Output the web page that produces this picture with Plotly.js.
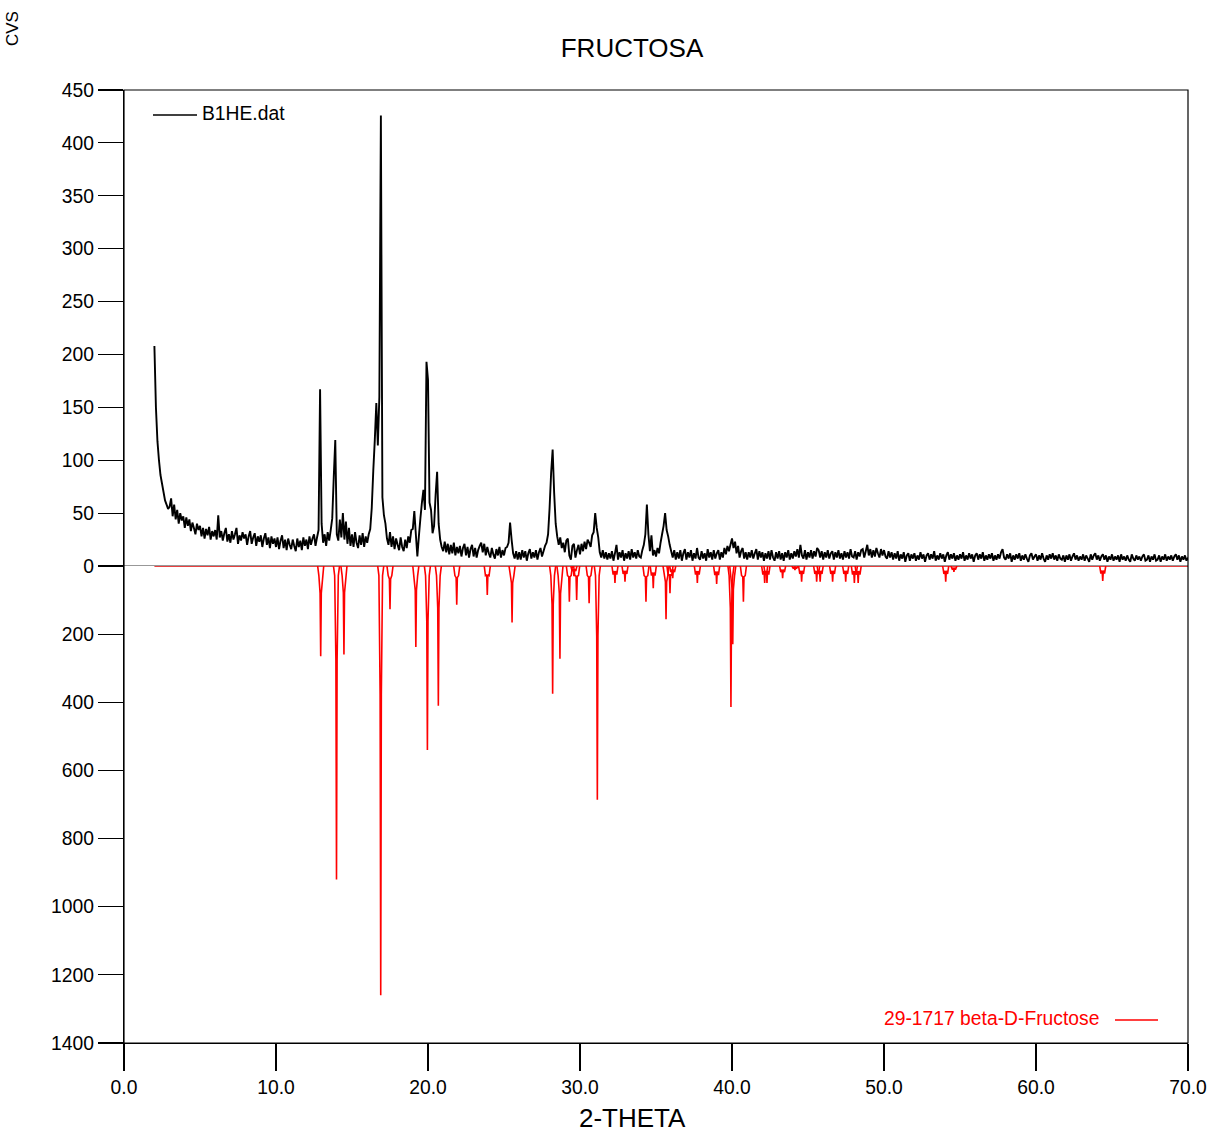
<!DOCTYPE html>
<html>
<head>
<meta charset="utf-8">
<script src="https://cdn.plot.ly/plotly-3.0.1.min.js"></script>
<style>html,body{margin:0;padding:0;background:#fff;}#chart{width:1225px;height:1135px;}</style>
</head>
<body>
<div id="chart"></div>
<script>
// Measured scan B1HE.dat: 2-theta from 2.0 to 70.0 in 0.1 steps (intensity, counts)
const scanStart = 2.0;
const scanStep = 0.1;
const scanCounts = [
208,150,118,100,86,78,70,62,58,54,
56,64,47,58,44,53,40,50,43,47,
36,46,38,44,33,41,36,30,40,34,
38,28,36,26,35,29,37,25,33,28,
34,25,48,27,33,24,31,36,23,30,
22,33,25,30,36,21,29,24,32,26,
30,20,28,33,21,27,31,19,28,23,
29,18,26,31,20,27,17,28,21,26,
18,27,16,24,29,17,25,15,26,20,
16,25,19,14,26,18,24,15,27,19,
25,16,28,20,26,30,19,27,34,167,
40,22,30,19,32,24,34,45,84,119,
30,24,44,27,50,25,42,21,36,19,
30,18,32,22,17,29,20,31,18,28,
22,30,35,55,90,119,154,114,160,426,
65,48,40,26,20,32,18,28,16,26,
20,15,27,18,14,25,17,28,22,34,
35,52,30,9,28,45,60,72,53,193,
176,60,53,31,38,67,89,40,25,18,
14,23,13,21,11,20,12,22,10,18,
12,19,9,17,21,10,18,8,16,20,
9,17,8,15,19,22,13,21,10,18,
12,8,17,11,7,16,10,18,8,15,
10,17,18,22,41,25,12,7,14,6,
13,6,15,8,14,5,12,16,7,13,
8,15,6,13,17,9,14,19,22,30,
55,88,110,69,40,28,20,27,17,22,
13,24,26,10,6,19,21,8,15,20,
11,21,14,23,16,25,22,18,29,32,
50,36,27,13,8,15,7,13,6,12,
7,14,5,12,20,6,13,8,15,5,
12,7,14,6,16,8,13,7,15,9,
8,15,20,30,58,30,14,29,10,15,
9,17,12,22,30,38,50,34,28,20,
14,8,15,6,13,7,15,5,12,16,
6,13,8,15,5,12,7,17,8,6,
14,7,12,5,16,8,13,6,15,7,
12,15,6,13,8,17,11,19,14,20,
26,17,23,12,19,8,14,17,7,13,
6,13,8,15,7,12,16,6,14,8,
13,5,12,7,14,6,15,8,5,13,
7,14,6,12,5,13,8,15,6,12,
7,14,9,16,8,20,10,7,15,6,
13,8,15,7,14,9,17,15,8,14,
6,13,8,15,7,12,14,6,13,8,
15,7,12,6,14,8,13,7,16,9,
8,14,6,13,9,15,16,8,14,20,
10,16,8,15,9,17,12,8,16,10,
15,9,7,14,8,13,6,12,7,14,
5,11,7,13,4,10,12,5,11,7,
12,5,10,6,13,7,11,4,10,12,
6,11,7,14,5,10,6,12,7,11,
4,10,13,6,11,7,12,5,10,6,
11,7,13,5,10,6,12,7,11,4,
10,12,6,11,7,13,5,10,6,11,
7,12,5,10,6,11,7,13,16,8,
6,11,7,12,4,10,6,11,7,12,
5,10,6,11,7,4,10,12,6,9,
11,5,10,6,12,7,4,10,6,11,
7,12,6,10,5,11,7,6,10,4,
10,6,11,5,9,12,6,10,5,9,
6,11,5,10,7,4,11,6,10,12,
6,10,5,9,11,6,10,4,9,6,
11,5,9,6,10,4,11,6,9,5,
10,6,4,11,7,5,10,6,9,5,
9,11,5,6,10,4,9,6,11,5,
6,10,4,9,6,11,5,9,6,10,
5,9,11,6,10,4,9,6,10,5,
8
];

// Reference pattern 29-1717 beta-D-Fructose: peak positions (2-theta) and intensities
const refPos = [12.94,13.98,14.47,16.89,17.5,19.2,19.96,20.68,21.89,23.9,25.53,28.2,28.68,29.3,29.6,29.78,30.6,31.14,32.3,32.96,34.34,34.82,35.66,35.92,36.1,37.72,38.99,39.93,40.05,40.75,42.15,42.3,43.33,44.14,44.58,45.57,45.8,46.62,47.48,48.05,48.3,54.06,54.6,64.39];
const refInt = [265,920,260,1260,127,238,540,410,114,85,166,375,272,105,30,100,109,686,50,46,105,65,156,80,36,50,53,414,230,105,50,50,36,12,46,46,46,46,46,50,50,46,17,44];

const xTickVals = [0,10,20,30,40,50,60,70];
const xTickText = ['0.0','10.0','20.0','30.0','40.0','50.0','60.0','70.0'];
const yTopTicks = [0,50,100,150,200,250,300,350,400,450];
const yBotTicks = [200,400,600,800,1000,1200,1400];

// build scan x values
const scanX = scanCounts.map((_, i) => +(scanStart + i * scanStep).toFixed(2));

// build reference profile polylines from peak list
const refX = [], refY = [];
refPos.forEach((p, k) => {
  const I = refInt[k];
  const c = Math.min(28, 0.5 * I);
  const shape = [[-0.2, 0], [-0.12, c], [-0.04, 0.3 * I], [0, I], [0.04, 0.3 * I], [0.12, c], [0.2, 0]];
  shape.forEach(([dx, f]) => { refX.push(p + dx); refY.push(f); });
  refX.push(null); refY.push(null);
});

const font = 'Arial, "Liberation Sans", sans-serif';
const small = 19.3;

const traces = [
  { x: [scanStart, 70], y: [0, 0], xaxis: 'x', yaxis: 'y2', mode: 'lines',
    line: { color: '#e00000', width: 1.5 }, hoverinfo: 'skip', showlegend: false },
  { x: refX, y: refY, xaxis: 'x', yaxis: 'y2', mode: 'lines',
    line: { color: '#ff0000', width: 1.6 }, connectgaps: false, showlegend: false },
  { x: scanX, y: scanCounts, xaxis: 'x', yaxis: 'y', mode: 'lines',
    line: { color: '#000000', width: 1.9, simplify: false }, showlegend: false }
];

const L = 124, R = 1188, T = 90, B = 1043;
const W = R - L, H = B - T;
const px = v => (v - L) / W;
const py = v => (B - v) / H;

const axisCommon = {
  ticks: 'outside', tickwidth: 1.2, tickcolor: '#000',
  showline: true, linecolor: '#000', linewidth: 1.2, showgrid: false, zeroline: false,
  tickfont: { family: font, size: small, color: '#000' }
};

const layout = {
  width: 1225, height: 1135,
  margin: { l: L, r: 1225 - R, t: T, b: 1135 - B, pad: 0 },
  paper_bgcolor: '#fff', plot_bgcolor: '#fff',
  font: { family: font, color: '#000', size: small },
  showlegend: false,
  title: { text: 'FRUCTOSA', font: { family: font, size: 26, color: '#000' },
           xref: 'container', x: 632 / 1225, xanchor: 'center',
           yref: 'container', y: 1 - 48 / 1135, yanchor: 'middle' },
  xaxis: Object.assign({}, axisCommon, { range: [0, 70], anchor: 'y2', tickvals: xTickVals, ticktext: xTickText, ticklen: 27 }),
  yaxis: Object.assign({}, axisCommon, { domain: [477 / 953, 1], range: [0, 450], tickvals: yTopTicks, ticklen: 25 }),
  yaxis2: Object.assign({}, axisCommon, { domain: [0, 477 / 953], range: [1400, 0], tickvals: yBotTicks, ticklen: 25 }),
  shapes: [
    { type: 'rect', xref: 'paper', yref: 'paper', x0: 0, x1: 1, y0: 0, y1: 1,
      line: { color: '#000', width: 1.2 }, layer: 'above' },
    { type: 'line', xref: 'paper', yref: 'y', x0: 0, x1: 1, y0: 0, y1: 0,
      line: { color: '#333', width: 1.2 }, layer: 'below' },
    { type: 'line', xref: 'paper', yref: 'paper', x0: px(153), x1: px(197), y0: py(115), y1: py(115),
      line: { color: '#000', width: 1.3 } },
    { type: 'line', xref: 'paper', yref: 'paper', x0: px(1115), x1: px(1158), y0: py(1020), y1: py(1020),
      line: { color: '#ff0000', width: 1.3 } }
  ],
  annotations: [
    { text: 'B1HE.dat', xref: 'paper', yref: 'paper', x: px(200), y: py(113), xanchor: 'left', yanchor: 'middle',
      showarrow: false, font: { family: font, size: small, color: '#000' } },
    { text: '29-1717 beta-D-Fructose', xref: 'paper', yref: 'paper', x: px(1101), y: py(1018),
      xanchor: 'right', yanchor: 'middle', showarrow: false, font: { family: font, size: small, color: '#ff0000' } },
    { text: '2-THETA', xref: 'paper', yref: 'paper', x: px(632), y: py(1118), xanchor: 'center', yanchor: 'middle',
      showarrow: false, font: { family: font, size: 26, color: '#000' } },
    { text: 'CVS', xref: 'paper', yref: 'paper', x: px(13), y: py(29), xanchor: 'center', yanchor: 'middle',
      textangle: -90, showarrow: false, font: { family: font, size: 17, color: '#000' } }
  ]
};

Plotly.newPlot('chart', traces, layout, { displayModeBar: false, staticPlot: true });
</script>
</body>
</html>
